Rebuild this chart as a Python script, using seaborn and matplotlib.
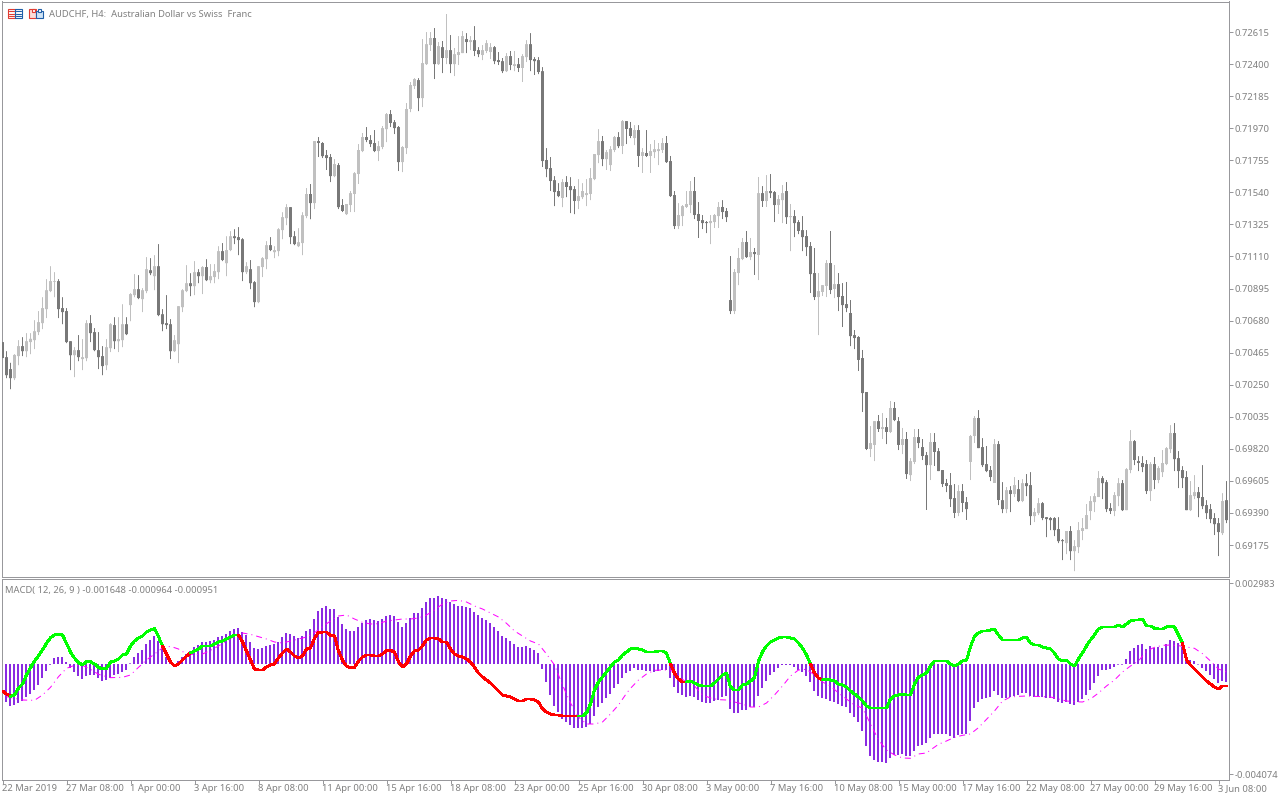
import numpy as np
import pandas as pd
import matplotlib
matplotlib.use("Agg")
import matplotlib.pyplot as plt
from matplotlib.patches import Rectangle
from matplotlib.lines import Line2D
from matplotlib.transforms import IdentityTransform
import seaborn as sns

# Prices in points (1e-5), one entry per 4-hour candle
high_pts = [
70550,70475,70397,70455,70549,70569,70596,70596,70683,70744,70837,70958,71045,71005,70958,70837,
70764,70542,70502,70583,70556,70683,70717,70630,70603,70509,70556,70663,70703,70703,70790,70703,
70864,70992,70985,70898,71106,71099,71119,71193,70757,70851,70690,70583,70777,70891,71052,70998,
71079,71025,71045,71092,71059,71059,71179,71200,71246,71280,71293,71307,71233,71072,71086,70945,
71045,71106,71213,71240,71179,71300,71407,71461,71441,71280,71300,71407,71569,71596,71884,71911,
71877,71824,71797,71763,71736,71495,71462,71549,71676,71864,71938,71978,71924,71958,71884,71985,
72072,72092,72025,71985,71850,72139,72280,72306,72306,72568,72615,72615,72642,72548,72555,72736,
72595,72508,72588,72622,72608,72588,72655,72514,72528,72561,72541,72521,72481,72441,72474,72488,
72488,72441,72467,72561,72608,72447,72447,72380,71837,71777,71649,71602,71629,71649,71642,71582,
71629,71602,71629,71703,71797,71964,71918,71824,71850,71918,71944,72025,72018,72012,71991,71991,
71837,71958,71864,71891,71871,71904,71918,71784,71549,71468,71455,71549,71616,71643,71475,71388,
71348,71388,71395,71475,71488,71435,71113,71026,71167,71234,71281,71234,71167,71643,71582,71656,
71663,71549,71522,71589,71609,71462,71421,71354,71381,71287,71207,71167,70999,70918,71086,71281,
71053,70999,70932,70939,70818,70617,70576,70483,70201,69973,70006,70047,70060,70027,70141,70134,
70033,69960,69933,69758,69953,69953,69886,69799,69926,69926,69825,69678,69618,69658,69584,69577,
69584,69497,69913,70040,70080,69892,69839,69705,69886,69872,69597,69564,69570,69631,69611,69617,
69651,69664,69423,69490,69463,69362,69362,69362,69362,69215,69269,69302,69208,69329,69356,69450,
69503,69523,69671,69637,69611,69456,69530,69624,69611,69691,69946,69879,69771,69771,69745,69731,
69765,69704,69812,69832,69979,69993,69805,69704,69671,69604,69644,69564,69711,69476,69450,69389,
69356,69523,69604]

body_top_pts = [
70536,70435,70355,70450,70509,70509,70542,70558,70609,70670,70764,70884,70945,70945,70945,70764,
70744,70542,70482,70482,70435,70663,70663,70603,70482,70442,70502,70656,70650,70556,70656,70656,
70858,70891,70891,70884,71025,71018,71045,71045,70723,70663,70656,70549,70777,70884,70931,70931,
71005,71005,71039,71039,70978,71012,71146,71146,71153,71246,71246,71240,71226,71045,71025,70938,
71045,71099,71186,71186,71153,71293,71374,71441,71441,71246,71206,71387,71529,71529,71884,71884,
71871,71790,71777,71730,71723,71455,71462,71535,71669,71824,71911,71911,71891,71871,71850,71971,
72065,72065,72011,71978,71844,72099,72260,72300,72293,72407,72534,72575,72575,72521,72514,72494,
72494,72467,72481,72588,72568,72561,72561,72494,72494,72541,72514,72514,72427,72420,72454,72454,
72400,72400,72454,72534,72534,72434,72427,72353,71757,71703,71622,71549,71609,71609,71582,71562,
71515,71549,71535,71636,71797,71884,71884,71810,71830,71911,71911,72018,72018,71971,71958,71958,
71810,71804,71817,71830,71830,71871,71871,71750,71522,71388,71448,71462,71549,71549,71395,71354,
71341,71348,71388,71442,71442,71415,70818,71006,71100,71207,71207,71140,71140,71535,71535,71549,
71549,71542,71495,71535,71549,71381,71381,71341,71287,71247,71180,70999,70878,70918,71066,71066,
70925,70925,70845,70791,70731,70583,70570,70429,70201,69859,70006,70006,69966,69966,70094,70094,
70006,69886,69886,69738,69899,69899,69832,69778,69866,69866,69805,69678,69591,69577,69490,69537,
69537,69463,69906,70027,70027,69832,69718,69678,69852,69852,69476,69543,69543,69577,69550,69590,
69590,69577,69396,69456,69456,69362,69356,69356,69282,69208,69269,69269,69168,69275,69289,69376,
69470,69503,69624,69624,69597,69423,69510,69590,69590,69684,69872,69872,69738,69725,69718,69718,
69718,69691,69725,69825,69926,69926,69758,69678,69631,69510,69530,69530,69497,69443,69416,69356,
69322,69470,69476]

body_bottom_pts = [
70429,70314,70294,70294,70442,70475,70475,70536,70549,70603,70663,70757,70878,70940,70757,70737,
70536,70448,70448,70435,70422,70428,70596,70482,70435,70375,70381,70495,70542,70542,70549,70589,
70784,70851,70831,70824,70878,70998,70978,70717,70656,70650,70475,70475,70522,70770,70878,70911,
70911,70978,70978,70951,70951,70972,71005,71086,71065,71153,71233,71220,71005,71005,70931,70804,
70804,71039,71092,71153,71139,71146,71287,71367,71240,71193,71179,71200,71381,71468,71468,71871,
71783,71770,71649,71649,71441,71415,71394,71455,71529,71663,71817,71891,71864,71817,71817,71844,
71964,72005,71971,71743,71743,71837,72099,72253,72172,72172,72400,72528,72400,72400,72441,72441,
72400,72400,72461,72474,72548,72548,72488,72467,72461,72488,72481,72420,72414,72353,72353,72394,
72387,72374,72374,72447,72427,72420,72347,71750,71696,71616,71542,71515,71502,71576,71555,71482,
71482,71508,71522,71529,71629,71790,71763,71763,71723,71824,71850,71851,71965,71918,71904,71784,
71784,71784,71784,71810,71817,71824,71743,71515,71314,71314,71381,71442,71455,71388,71348,71334,
71334,71334,71341,71381,71408,71374,70744,70744,70999,71093,71106,71106,71126,71120,71482,71482,
71535,71455,71455,71488,71374,71374,71334,71281,71240,71173,70992,70838,70838,70872,70912,70885,
70892,70838,70784,70764,70576,70563,70416,70194,69819,69819,69846,69953,69953,69933,69933,70013,
69846,69846,69651,69644,69732,69859,69772,69711,69711,69799,69671,69584,69571,69483,69390,69390,
69457,69416,69732,69906,69825,69711,69671,69631,69591,69477,69416,69416,69517,69517,69470,69470,
69570,69369,69369,69389,69356,69349,69342,69275,69201,69201,69188,69134,69134,69161,69269,69282,
69403,69463,69497,69590,69416,69403,69403,69503,69409,69409,69678,69745,69725,69698,69537,69537,
69611,69611,69664,69718,69818,69751,69671,69624,69409,69409,69503,69490,69436,69389,69349,69315,
69262,69255,69342]

low_pts = [
70375,70294,70220,70281,70381,70442,70435,70455,70489,70583,70623,70697,70871,70837,70697,70656,
70529,70348,70301,70408,70348,70408,70536,70475,70355,70314,70348,70469,70489,70469,70502,70583,
70676,70837,70824,70737,70864,70985,70884,70710,70609,70623,70422,70469,70395,70737,70871,70844,
70851,70931,70858,70945,70931,70931,70958,71079,70978,71146,71193,71119,70945,70992,70891,70770,
70797,70972,71025,71146,71099,71112,71226,71320,71193,71186,71173,71119,71367,71360,71428,71777,
71770,71690,71609,71642,71428,71408,71388,71408,71408,71596,71810,71877,71844,71810,71750,71830,
71877,71978,71931,71683,71676,71797,72078,72233,72085,72112,72394,72488,72300,72394,72340,72400,
72340,72320,72394,72474,72474,72494,72454,72447,72427,72474,72434,72400,72394,72340,72347,72360,
72353,72347,72280,72414,72353,72327,72333,71710,71642,71549,71448,71508,71441,71508,71401,71394,
71428,71495,71448,71488,71622,71736,71716,71690,71683,71810,71837,71797,71864,71904,71857,71710,
71670,71777,71670,71770,71723,71804,71737,71509,71294,71294,71314,71435,71401,71361,71234,71294,
71267,71193,71301,71301,71361,71341,70724,70724,70918,71086,71100,71086,70986,70952,71442,71442,
71502,71341,71395,71334,71328,71146,71240,71260,71146,71113,70865,70818,70583,70845,70838,70858,
70831,70744,70637,70737,70509,70489,70342,70067,69812,69765,69738,69933,69886,69852,69926,70006,
69812,69785,69618,69604,69718,69825,69745,69410,69611,69705,69671,69564,69530,69430,69356,69369,
69396,69343,69611,69859,69825,69698,69664,69604,69591,69443,69389,69389,69396,69497,69463,69463,
69503,69309,69329,69376,69342,69228,69275,69235,69188,69074,69114,69074,69000,69121,69208,69282,
69342,69396,69497,69483,69396,69383,69369,69436,69403,69409,69657,69711,69671,69664,69517,69470,
69550,69590,69631,69711,69792,69671,69557,69557,69409,69403,69483,69362,69416,69349,69322,69242,
69101,69242,69322]

# U = close above open, D = close below open
direction = ("DDDUUDUUUU" "UUUUDDDDUD" "UUDDDDUUDU" "UDUUDUUDUD" "DDDUUUUDUD"
             "UDUUUDUUDD" "DUDDUUUDUU" "UUDDUUUDUD" "DDDUDDUUUU" "UDDDUUUDDD"
             "UUUUDUUUDU" "DUDUUUDUDD" "UUUDDDUDUD" "UUDDDDDDDD" "UDDDUUUUUU"
             "DUUUDUDDUD" "UDUUUUDDDU" "UUUDDDDUUU" "DDDUUUDUDU" "DUDDUUDUDD"
             "DDDDUUUDUD" "DDDDDDDUUD" "UDUDDUDUUD" "DDUDDDDDDU" "DDUUDDDDUD"
             "DUDUDUDDUU" "DDDDDDUDUU" "UUUUUDDDUU" "DUUDDDDUDU" "UUUDDDDUUD"
             "DDDDDUD")

# MACD panel values in millionths
macd_hist = [
-1480,-1406,-1554,-1517,-1443,-1369,-1221,-1110,-962,-777,-518,-259,-30,222,259,259,
74,-148,-296,-444,-555,-444,-407,-407,-518,-629,-592,-518,-407,-370,-296,-222,
25,259,407,518,740,888,1036,851,666,259,37,-20,111,259,370,481,
629,703,814,814,851,888,999,1036,1110,1221,1295,1332,1184,1073,814,592,
555,592,666,703,740,814,999,1147,1110,1036,962,1036,1221,1295,1665,1961,
2072,2146,2035,2035,1739,1480,1295,1221,1221,1369,1517,1628,1665,1628,1591,1665,
1776,1813,1776,1554,1369,1517,1702,1887,1887,2072,2294,2442,2442,2516,2442,2405,
2294,2220,2146,2146,2109,2072,1924,1813,1702,1628,1517,1369,1221,1036,962,851,
740,629,629,666,592,518,407,-185,-666,-1147,-1554,-1776,-2035,-2146,-2257,-2368,
-2368,-2368,-2331,-2220,-1924,-1591,-1443,-1258,-1110,-888,-740,-518,-333,-259,-148,-222,
-222,-259,-259,-296,-259,-222,-222,-518,-851,-1073,-1147,-1221,-1184,-1221,-1332,-1406,
-1443,-1443,-1369,-1332,-1221,-1184,-1665,-1813,-1813,-1702,-1702,-1591,-1591,-1184,-888,-629,
-407,-296,-148,-37,-37,-37,-111,-222,-296,-444,-666,-999,-1184,-1258,-1295,-1369,
-1406,-1480,-1554,-1591,-1813,-1961,-2146,-2479,-3034,-3404,-3552,-3626,-3626,-3663,-3478,-3367,
-3367,-3330,-3404,-3404,-3219,-3034,-2997,-2923,-2738,-2590,-2590,-2590,-2590,-2664,-2738,-2627,
-2590,-2590,-2109,-1628,-1406,-1295,-1258,-1221,-999,-1147,-1258,-1258,-1221,-1184,-1147,-1073,
-1073,-1184,-1221,-1221,-1221,-1258,-1258,-1295,-1406,-1443,-1406,-1480,-1517,-1406,-1295,-1147,
-962,-703,-444,-222,-222,-185,-111,-25,-25,185,481,592,703,740,555,666,
592,629,592,740,888,851,777,629,222,148,111,-20,-148,-259,-407,-555,
-703,-629,-666]

macd_line = [
-999,-1110,-1196,-1147,-888,-740,-407,-136,111,296,518,764,974,1073,1097,1073,
764,444,222,49,-25,86,86,0,-123,-185,-160,74,111,185,333,370,
666,851,962,1036,1184,1258,1307,1011,666,370,74,-74,0,148,296,407,
481,555,666,666,666,740,814,851,925,999,1073,1073,814,481,148,-185,
-222,-222,-111,-37,0,222,407,555,444,296,222,296,555,592,949,1171,
1184,1184,1048,1036,481,148,-74,-148,-123,111,259,333,333,296,296,370,
506,506,444,74,-111,0,296,481,518,666,888,962,962,925,814,814,
555,370,296,259,185,74,-111,-333,-481,-592,-703,-851,-999,-1147,-1184,-1221,
-1295,-1369,-1369,-1295,-1295,-1332,-1406,-1665,-1776,-1850,-1887,-1887,-1924,-1924,-1924,-1924,
-1924,-1924,-1813,-1480,-962,-666,-481,-296,-111,74,148,333,444,555,592,555,
518,444,444,444,481,481,407,0,-333,-555,-666,-666,-629,-703,-777,-814,
-814,-814,-703,-555,-407,-333,-851,-962,-962,-777,-740,-629,-518,111,444,666,
814,888,962,999,999,962,925,777,592,333,0,-333,-518,-592,-555,-592,
-629,-740,-777,-851,-999,-1110,-1221,-1369,-1554,-1628,-1628,-1628,-1628,-1628,-1295,-1184,
-1147,-1110,-1147,-1147,-740,-481,-407,-333,-74,111,111,111,111,0,-74,0,
111,148,629,1036,1147,1221,1221,1258,1295,1073,888,888,888,888,888,962,
999,777,703,703,629,592,555,407,185,111,148,0,-74,185,407,666,
888,1073,1295,1369,1369,1369,1369,1443,1369,1480,1591,1628,1628,1665,1406,1406,
1320,1295,1295,1369,1406,1369,1073,777,148,-37,-185,-333,-481,-629,-740,-851,
-925,-814,-814]

# Bars at which the thick line changes colour (starts red)
turn_bars = [0, 2, 40, 47, 59, 144, 167, 171, 202, 205, 295, 306]

signal_bars = [1,3,5,8,10,12,14,16,18,20,22,24,27,30,32,34,36,38,40,42,44,46,48,50,52,54,56,58,60,62,
64,66,68,70,72,74,76,78,80,82,84,86,88,90,92,94,96,98,100,102,104,106,108,110,112,114,116,118,120,
122,124,126,128,130,132,134,136,138,140,142,144,146,148,150,152,154,156,157,159,161,163,165,167,169,
171,173,175,177,179,181,183,185,187,189,191,193,195,197,199,201,203,205,207,209,211,213,215,217,219,
221,223,225,227,229,231,232,234,236,238,240,242,244,246,248,250,252,254,256,258,260,262,264,266,268,
270,272,274,276,278,280,282,284,286,288,290,292,294,296,298,300,302,304,306]
signal_vals = [-1208,-1270,-1332,-1344,-1147,-863,-469,-160,-49,-49,-197,-382,-506,-493,-407,-123,148,370,592,653,555,370,345,370,506,666,851,1036,1147,1097,
1011,925,814,777,851,925,999,1159,1381,1591,1776,1813,1665,1541,1480,1492,1591,1628,1665,1665,1702,1813,1998,2220,2331,2355,2294,2146,2035,
1887,1739,1505,1221,1036,851,740,370,-37,-777,-1443,-1961,-2220,-2220,-2146,-1850,-1517,-1085,-900,-592,-370,-234,-222,-222,-456,
-678,-814,-1147,-1258,-1319,-1332,-1406,-1480,-1591,-1591,-1443,-1147,-814,-444,-222,-197,-407,-666,-814,-1073,-1295,-1517,-1628,-2220,-2811,
-3181,-3366,-3477,-3489,-3329,-3292,-3181,-2971,-2848,-2713,-2639,-2589,-2355,-2047,-1739,-1369,-1221,-1196,-1184,-1196,-1208,-1221,-1295,-1369,-1393,
-1406,-1295,-1073,-814,-592,-296,-74,111,481,617,690,703,678,629,580,382,111,-185,-296]

price_ticks = [0.72615,0.72400,0.72185,0.71970,0.71755,0.71540,0.71325,0.71110,0.70895,0.70680,
               0.70465,0.70250,0.70035,0.69820,0.69605,0.69390,0.69175]
macd_ticks = [0.002983, -0.004074]
date_labels = ["22 Mar 2019","27 Mar 08:00","1 Apr 00:00","3 Apr 16:00","8 Apr 08:00","11 Apr 00:00",
               "15 Apr 16:00","18 Apr 08:00","23 Apr 00:00","25 Apr 16:00","30 Apr 08:00","3 May 00:00",
               "7 May 16:00","10 May 08:00","15 May 00:00","17 May 16:00","22 May 08:00","27 May 00:00",
               "29 May 16:00","3 Jun 08:00"]
bars_per_label = 16
title_text = "AUDCHF, H4:  Australian Dollar vs Swiss  Franc"
macd_text = "MACD( 12, 26, 9 ) -0.001648 -0.000964 -0.000951"

sns.set_theme(style="white")
plt.rcParams["font.family"] = ["Noto Sans", "DejaVu Sans"]
GRAY = "#808080"
FRAME = "#98989c"
FS = 6.75

W, H = 1280, 800
fig = plt.figure(figsize=(W / 100, H / 100), dpi=100, facecolor="white")
def axes_px(l, t, r, b):
    return fig.add_axes([l / W, 1 - b / H, (r - l) / W, (b - t) / H])

LEFT, RIGHT = 1.5, 1228.5
MAIN_T, MAIN_B = 1.5, 576.5
SUB_T, SUB_B = 578.5, 779.5
ax = axes_px(LEFT, MAIN_T, RIGHT, MAIN_B)
sub = axes_px(LEFT, SUB_T, RIGHT, SUB_B)

n = len(high_pts)
candles = pd.DataFrame({
    "bar": np.arange(n),
    "high": np.array(high_pts) / 1e5,
    "top": np.array(body_top_pts) / 1e5,
    "bottom": np.array(body_bottom_pts) / 1e5,
    "low": np.array(low_pts) / 1e5,
    "dir": list(direction),
})
macd = pd.DataFrame({
    "bar": np.arange(n),
    "hist": np.array(macd_hist) / 1e6,
    "line": np.array(macd_line) / 1e6,
})
signal = pd.DataFrame({"bar": signal_bars, "value": np.array(signal_vals) / 1e6})

xlim = ((LEFT - 2.5) / 4, (RIGHT - 2.5) / 4)
for direction_key, col in (("U", "#c0c0c0"), ("D", "#787878")):
    part = candles[candles["dir"] == direction_key]
    wicks = ax.vlines(part["bar"], part["low"], part["high"], colors=col, linewidth=0.72, zorder=2)
    wicks.set_snap(False)
    bodies = ax.bar(part["bar"], np.maximum(part["top"] - part["bottom"], 0.00005), bottom=part["bottom"],
                    width=0.75, color=col, linewidth=0, zorder=3)
    for p in bodies:
        p.set_snap(False)
ax.set_xlim(*xlim)
ax.set_ylim(0.72830 - MAIN_B * 6.706e-5, 0.72830 - MAIN_T * 6.706e-5)
ax.set_xticks([])
ax.yaxis.tick_right()
ax.set_yticks(price_ticks)
ax.set_yticklabels([f"{v:.5f}" for v in price_ticks])

sns.barplot(data=macd, x="bar", y="hist", native_scale=True, width=0.5, color="#8a2be2",
            saturation=1, errorbar=None, ax=sub, zorder=2)
for p in sub.patches:
    p.set_x(p.get_x() - 0.125)   # two-pixel bar sits left of the candle centre
    p.set_linewidth(0)
    p.set_edgecolor("none")
    p.set_snap(False)
sns.lineplot(data=signal, x="bar", y="value", color="#ff00ff", linewidth=0.72,
             linestyle=(0, (6, 4, 1, 4)), estimator=None, ax=sub, zorder=3)
for k in range(len(turn_bars) - 1):
    seg = macd[(macd["bar"] >= turn_bars[k]) & (macd["bar"] <= turn_bars[k + 1])]
    sns.lineplot(data=seg, x="bar", y="line", color="#ff0000" if k % 2 == 0 else "#00ff00",
                 linewidth=1.4, estimator=None, antialiased=False, ax=sub, zorder=4)
sub.set_xlim(*xlim)
zero_y, unit = 664.0, 37e-6
sub.set_ylim((zero_y - SUB_B) * unit, (zero_y - SUB_T) * unit)
sub.yaxis.tick_right()
sub.set_yticks(macd_ticks)
sub.set_yticklabels([f"{v:.6f}" for v in macd_ticks])
sub.set_xlabel("")
sub.set_ylabel("")
sub.set_xticks(np.arange(len(date_labels)) * bars_per_label)
sub.set_xticklabels(date_labels, ha="left")

for a in (ax, sub):
    for s in a.spines.values():
        s.set_color(FRAME)
        s.set_linewidth(0.72)
    a.tick_params(axis="both", length=3, width=0.72, color=FRAME, labelcolor=GRAY,
                  labelsize=FS, pad=1.5, left=False)
    a.tick_params(axis="y", right=True)
sub.tick_params(axis="x", bottom=True, pad=0.5)

ax.text(49 / W, 1 - 14.5 / H, title_text, transform=fig.transFigure, color=GRAY, fontsize=FS,
        va="center", ha="left")
sub.text(5 / W, 1 - 590 / H, macd_text, transform=fig.transFigure, color=GRAY, fontsize=FS,
         va="center", ha="left")

# Toolbar glyphs at the top left
def rect(x, y, w, h, edge, face="none"):
    fig.add_artist(Rectangle((x, H - y - h), w, h, transform=IdentityTransform(), fill=face != "none",
                             facecolor=face, edgecolor=edge, linewidth=0.8, zorder=6))
def hline(x0, x1, y, col):
    fig.add_artist(Line2D([x0, x1], [H - y, H - y], transform=IdentityTransform(), color=col,
                          linewidth=0.8, zorder=6))
rect(7.5, 8.5, 7, 9.5, "#e03c32")
rect(14.5, 8.5, 7, 9.5, "#1f5fa8")
for yy in (11, 13.5, 16):
    hline(9, 13.5, yy, "#e03c32")
    hline(16, 20.5, yy, "#1f5fa8")
rect(28.5, 8.5, 7, 9.5, "#e03c32", "#fbdcd8")
rect(36, 11, 6.5, 7, "#1f5fa8", "#cfe3f5")
rect(32, 8.5, 3, 3, "#e03c32", "white")
rect(38, 8.5, 3, 3, "#1f5fa8", "white")

fig.savefig("out.png", dpi=100, facecolor="white")
